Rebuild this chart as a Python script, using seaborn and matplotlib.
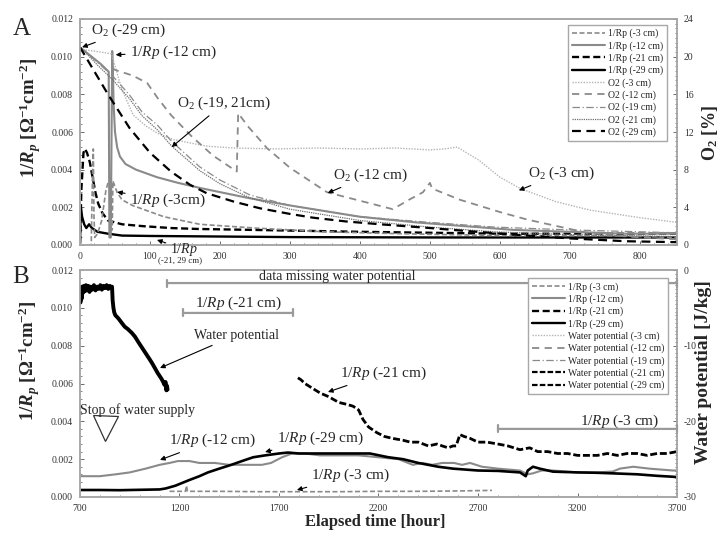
import seaborn as sns
import matplotlib.pyplot as plt
from matplotlib.lines import Line2D
from matplotlib.ticker import MultipleLocator, FixedLocator, FormatStrFormatter

# ---------------- panel A data (hours, 1/Rp and O2 %) ----------------
rp3_h = [0, 16, 18, 19, 20, 21, 25, 31, 37, 40, 44, 45, 46, 47, 50, 53, 60, 75, 90, 120, 171, 250, 350, 457, 600, 750, 853]
rp3_v = [0, 0, 0.0040, 0.0051, 0.0015, 0.0004, 0.0006, 0.0013, 0.0029, 0.0033, 0.0033, 0.0008, 0.0008, 0.0034, 0.0031,
         0.0028, 0.0024, 0.0021, 0.0019, 0.0015, 0.0011, 0.0009, 0.0007, 0.0006, 0.0005, 0.0005, 0.0004]

rp12_h = [0, 10, 20, 30, 41, 42, 44, 46, 47, 48, 50, 53, 57, 65, 80, 110, 140, 175, 240, 300, 400, 480, 550, 620, 700, 780, 853]
rp12_v = [0.0105, 0.0102, 0.0099, 0.0096, 0.0092, 0.0004, 0.0004, 0.0103, 0.0092, 0.0075, 0.0060, 0.0052, 0.0047, 0.0043,
          0.0040, 0.0036, 0.0033, 0.0030, 0.0025, 0.0021, 0.0015, 0.0012, 0.0010, 0.0008, 0.0007, 0.0006, 0.0006]

rp21_h = [0, 2, 5, 7, 10, 14, 18, 22, 26, 32, 40, 50, 60, 90, 130, 170, 250, 400, 600, 853]
rp21_v = [0.0001, 0.0030, 0.0049, 0.0051, 0.0049, 0.0044, 0.0036, 0.0028, 0.0022, 0.0017, 0.0013, 0.0012, 0.0011,
          0.0010, 0.0009, 0.00085, 0.0008, 0.0007, 0.0006, 0.0006]

rp29_h = [0, 1, 3, 6, 9, 13, 17, 25, 40, 60, 100, 200, 300, 500, 700, 853]
rp29_v = [0, 0.0021, 0.0015, 0.0011, 0.0009, 0.0011, 0.0009, 0.0007, 0.0006, 0.0005, 0.00048, 0.00045, 0.00042,
          0.0004, 0.0004, 0.0004]

o2_3_h = [0, 20, 45, 52, 60, 76, 95, 110, 133, 160, 181, 220, 280, 340, 400, 450, 500, 520, 539, 570, 600, 629, 680, 729, 800, 853]
o2_3_v = [20.8, 20.6, 20.3, 18.5, 16.5, 13.8, 12.6, 11.9, 11.2, 10.8, 10.5, 10.3, 10.2, 10.3, 10.2, 10.3, 10.1, 10.2,
          10.4, 9.0, 7.2, 6.0, 4.6, 3.7, 2.9, 2.4]

o2_12_h = [46, 50, 75, 96, 111, 130, 160, 190, 220, 224, 226, 240, 267, 300, 353, 400, 447, 470, 490, 500, 503, 543,
           600, 639, 700, 724, 781, 853]
o2_12_v = [18.8, 18.6, 18.0, 17.2, 15.6, 13.8, 11.5, 9.5, 8.0, 7.8, 14.0, 12.6, 10.3, 8.2, 5.6, 4.7, 3.8, 4.8, 5.6,
           6.6, 6.0, 4.8, 3.5, 2.7, 1.7, 1.3, 0.9, 0.6]

o2_19_h = [0, 7, 25, 46, 70, 89, 111, 131, 171, 200, 243, 300, 400, 500, 593, 700, 853]
o2_19_v = [21.0, 20.6, 19.4, 18.0, 16.0, 14.1, 12.7, 11.0, 8.3, 6.9, 5.3, 4.2, 3.0, 2.4, 1.9, 1.6, 1.3]
o2_21_v = [21.0, 20.5, 19.1, 17.6, 15.6, 13.7, 12.2, 10.5, 7.9, 6.5, 5.0, 3.8, 2.6, 1.9, 1.4, 1.1, 0.9]

o2_29_h = [0, 20, 40, 71, 100, 130, 157, 181, 220, 257, 300, 333, 380, 429, 500, 550, 620, 700, 780, 853]
o2_29_v = [21.0, 18.5, 16.0, 12.4, 9.8, 7.8, 6.4, 5.5, 4.6, 3.9, 3.3, 2.9, 2.5, 2.2, 1.8, 1.5, 1.1, 0.7, 0.4, 0.3]

# ---------------- panel B data (hours, 1/Rp and water potential J/kg) ----------------
b_rp3_h = [1150, 1230, 1235, 1240, 1400, 1600, 1800, 2000, 2200, 2400, 2600, 2770]
b_rp3_v = [0.0003, 0.0003, 0.0006, 0.0003, 0.0003, 0.00028, 0.00028, 0.00028, 0.0003, 0.0003, 0.00032, 0.00035]

b_rp12_h = [700, 800, 880, 950, 1030, 1100, 1150, 1192, 1250, 1300, 1378, 1450, 1520, 1614, 1660, 1715, 1765, 1830,
            1906, 2000, 2100, 2200, 2300, 2373, 2420, 2470, 2520, 2580, 2620, 2660, 2720, 2800, 2911, 2950, 2976,
            3020, 3077, 3200, 3300, 3378, 3413, 3480, 3560, 3680, 3700]
b_rp12_v = [0.0011, 0.0011, 0.0012, 0.0013, 0.0015, 0.0017, 0.0018, 0.0019, 0.0019, 0.0018, 0.0018, 0.0017, 0.0017,
            0.0017, 0.0018, 0.0021, 0.0023, 0.0023, 0.0022, 0.0022, 0.0022, 0.0021, 0.0020, 0.0017, 0.0018, 0.0017,
            0.0018, 0.0018, 0.0017, 0.0018, 0.0016, 0.0015, 0.0014, 0.0012, 0.00125, 0.0014, 0.0014, 0.0013, 0.0013,
            0.00135, 0.0015, 0.0016, 0.0015, 0.0014, 0.0014]

b_rp21_h = [1795, 1810, 1830, 1860, 1906, 1950, 2000, 2040, 2072, 2100, 2122, 2150, 2192, 2230, 2270, 2323, 2360, 2400,
            2450, 2494, 2520, 2550, 2574, 2590, 2609, 2630, 2660, 2700, 2745, 2800, 2850, 2911, 2960, 3000, 3050,
            3100, 3150, 3200, 3248, 3300, 3350, 3400, 3450, 3500, 3550, 3600, 3650, 3700]
b_rp21_v = [0.0063, 0.0062, 0.0060, 0.0058, 0.0055, 0.0053, 0.0050, 0.0049, 0.0048, 0.0046, 0.0041, 0.0037, 0.0034,
            0.0032, 0.0031, 0.0030, 0.0029, 0.0029, 0.0027, 0.0028, 0.0027, 0.0026, 0.0027, 0.0027, 0.0033, 0.0032,
            0.0031, 0.0029, 0.0029, 0.0028, 0.0027, 0.0025, 0.0026, 0.0024, 0.0024, 0.0023, 0.0023, 0.0022, 0.0022,
            0.0022, 0.0023, 0.0022, 0.0023, 0.0023, 0.0022, 0.0023, 0.0023, 0.0024]

b_rp29_h = [700, 800, 900, 1000, 1100, 1130, 1180, 1250, 1300, 1343, 1400, 1460, 1514, 1570, 1630, 1700, 1745, 1800,
            1906, 2000, 2100, 2157, 2250, 2323, 2400, 2500, 2574, 2700, 2800, 2911, 2940, 2950, 2976, 3010, 3077,
            3200, 3300, 3378, 3500, 3600, 3680, 3700]
b_rp29_v = [0.00037, 0.00037, 0.00036, 0.00038, 0.00040, 0.00045, 0.0006, 0.0009, 0.0011, 0.0013, 0.0015, 0.0017,
            0.0019, 0.0021, 0.0022, 0.0023, 0.00235, 0.0023, 0.0023, 0.0023, 0.0023, 0.0023, 0.0021, 0.0020, 0.0018,
            0.0016, 0.0015, 0.0014, 0.00138, 0.0013, 0.0011, 0.0014, 0.0016, 0.0015, 0.00134, 0.0013, 0.00128,
            0.00125, 0.0012, 0.00112, 0.00107, 0.00105]

wp_h = [700, 702, 705, 708, 712, 716, 720, 725, 730, 736, 742, 748, 755, 762, 770, 778, 786, 794, 802, 810, 818, 826,
        834, 842, 850, 856, 861, 864, 868, 872, 878, 886, 896, 910, 925, 940, 960, 976, 995, 1015, 1035, 1050, 1062,
        1075, 1090, 1100, 1110, 1118, 1125, 1130, 1134, 1137, 1140]
wp_v = [-2.3, -4.3, -2.6, -3.8, -2.2, -3.0, -2.1, -2.8, -2.0, -2.7, -2.1, -2.9, -2.2, -2.6, -2.0, -2.7, -2.2, -2.5,
        -2.0, -2.6, -2.1, -2.4, -2.0, -2.5, -2.1, -2.4, -2.2, -4.0, -5.0, -5.6, -6.0, -6.2, -6.5, -7.0, -7.5, -7.8,
        -8.3, -8.8, -9.6, -10.4, -11.2, -11.8, -12.3, -12.9, -13.6, -14.0, -14.4, -14.8, -15.2, -14.8, -15.9, -15.3,
        -15.8]

stop_supply_h = 826
b_xticks = [700, 1200, 1700, 2200, 2700, 3200, 3700]

sns.set_style("ticks")
plt.rcParams["font.family"] = ["Liberation Serif", "DejaVu Serif"]
plt.rcParams["mathtext.fontset"] = "custom"
plt.rcParams["mathtext.rm"] = "Liberation Serif"
plt.rcParams["mathtext.it"] = "Liberation Serif:italic"
plt.rcParams["mathtext.bf"] = "Liberation Serif:bold"
plt.rcParams["mathtext.bfit"] = "Liberation Serif:italic:bold"
plt.rcParams["axes.unicode_minus"] = False

GRAY = "#8a8a8a"
LGRAY = "#b4b4b4"
DGRAY = "#6e6e6e"
SPINE = "#a8a8a8"

st = {
    "rp3": dict(color=GRAY, lw=1.2, linestyle=(0, (3, 1.5))),
    "rp12": dict(color=GRAY, lw=1.5, linestyle="-"),
    "rp21": dict(color="black", lw=1.7, linestyle=(0, (3, 1.5))),
    "rp29": dict(color="black", lw=1.7, linestyle="-"),
    "o3": dict(color=LGRAY, lw=1.0, linestyle=(0, (1, 1))),
    "o12": dict(color=GRAY, lw=1.3, linestyle=(0, (4, 3))),
    "o19": dict(color=GRAY, lw=0.9, linestyle=(0, (6, 2, 1, 2))),
    "o21": dict(color=DGRAY, lw=0.9, linestyle=(0, (1, 0.8))),
    "o29": dict(color="black", lw=1.6, linestyle=(0, (4, 2.5))),
}


def draw(ax, h, v, key, **extra):
    kw = dict(st[key])
    kw.update(extra)
    sns.lineplot(x=h, y=v, ax=ax, sort=False, estimator=None, legend=False, **kw)


def style_axes(ax, ax2):
    for a in (ax, ax2):
        for s in a.spines.values():
            s.set_color(SPINE)
            s.set_linewidth(1.2)
        a.tick_params(which="both", direction="in", colors="#555555", labelcolor="#333333",
                      labelsize=7, pad=5)
        a.tick_params(which="major", length=3, width=0.6)
        a.tick_params(which="minor", length=1.6, width=0.5)
    ax.yaxis.set_major_formatter(FormatStrFormatter("%.3f"))
    ax.yaxis.set_major_locator(MultipleLocator(0.002))
    ax.yaxis.set_minor_locator(MultipleLocator(0.0004))
    ax.set_ylim(0, 0.012)
    ax.set_xlabel("")
    ax.set_ylabel("")
    ax2.set_ylabel("")


arr = dict(arrowstyle="-|>", color="black", lw=0.8, mutation_scale=7, shrinkA=1, shrinkB=0)

fig = plt.figure(figsize=(7.22, 5.36), dpi=100)
axA = fig.add_axes([80 / 722, 1 - 245 / 536, 597 / 722, 226 / 536])
axB = fig.add_axes([80 / 722, 1 - 497 / 536, 597 / 722, 227 / 536])

# ---------------- panel A ----------------
axA2 = axA.twinx()
draw(axA, rp29_h, rp29_v, "rp29")
draw(axA, rp21_h, rp21_v, "rp21")
draw(axA, rp3_h, rp3_v, "rp3")
draw(axA, rp12_h, rp12_v, "rp12")
draw(axA2, o2_3_h, o2_3_v, "o3")
draw(axA2, o2_19_h, o2_19_v, "o19")
draw(axA2, o2_19_h, o2_21_v, "o21")
draw(axA2, o2_12_h, o2_12_v, "o12")
draw(axA2, o2_29_h, o2_29_v, "o29")

style_axes(axA, axA2)
axA.set_xlim(0, 853)
axA.xaxis.set_major_locator(MultipleLocator(100))
axA.xaxis.set_minor_locator(MultipleLocator(20))
axA2.set_ylim(0, 24)
axA2.yaxis.set_major_locator(MultipleLocator(4))
axA2.yaxis.set_minor_locator(MultipleLocator(0.5))

leg_a_keys = ["rp3", "rp12", "rp21", "rp29", "o3", "o12", "o19", "o21", "o29"]
leg_a_labels = ["1/Rp (-3 cm)", "1/Rp (-12 cm)", "1/Rp (-21 cm)", "1/Rp (-29 cm)", "O2 (-3 cm)",
                "O2 (-12 cm)", "O2 (-19 cm)", "O2 (-21 cm)", "O2 (-29 cm)"]
handles = [Line2D([], [], **st[k]) for k in leg_a_keys]
legA = axA2.legend(handles, leg_a_labels, loc="upper right", bbox_to_anchor=(0.992, 0.995), fontsize=7,
                   handlelength=3.4, handletextpad=0.3, labelspacing=0.28, borderpad=0.4,
                   fancybox=False, framealpha=1, edgecolor=SPINE)
legA.get_frame().set_linewidth(1.0)

A = axA2  # annotations drawn on top, in 1/Rp coordinates
tA = axA.transData
for text, xt, xp in [
    (r"O$_2$ (-29 cm)", (16, 0.01142), (3, 0.0105)),
    (r"1/$Rp$ (-12 cm)", (71, 0.01025), (51, 0.0101)),
    (r"O$_2$ (-19, 21cm)", (139, 0.00754), (131, 0.0052)),
    (r"1/$Rp$ (-3cm)", (71, 0.00239), (53, 0.00281)),
    (r"O$_2$ (-12 cm)", (361, 0.00372), (354, 0.00276)),
    (r"O$_2$ (-3 cm)", (640, 0.00382), (627, 0.00290)),
]:
    A.annotate(text, xy=xp, xytext=xt, xycoords=tA, textcoords=tA, ha="left", va="center", fontsize=11,
               annotation_clip=False, arrowprops=arr)
A.annotate(r"1/$Rp$", xy=(110, 0.00027), xytext=(149, -0.00022), xycoords=tA, textcoords=tA, ha="center",
           va="center", fontsize=10, annotation_clip=False, arrowprops=arr)
A.text(143, -0.00080, "(-21, 29 cm)", transform=tA, ha="center", va="center", fontsize=6.5)

# ---------------- panel B ----------------
axB2 = axB.twinx()
draw(axB, b_rp3_h, b_rp3_v, "rp3")
draw(axB, b_rp12_h, b_rp12_v, "rp12")
draw(axB, b_rp29_h, b_rp29_v, "rp29", lw=1.9)
draw(axB, b_rp21_h, b_rp21_v, "rp21", lw=2.0, linestyle=(0, (2.5, 1)))
draw(axB2, wp_h, wp_v, "rp29", lw=2.8)

style_axes(axB, axB2)
axB.set_xlim(700, 3700)
axB.xaxis.set_major_locator(FixedLocator(b_xticks))
axB.xaxis.set_minor_locator(MultipleLocator(100))
axB2.set_ylim(-30, 0)
axB2.yaxis.set_major_locator(MultipleLocator(10))
axB2.yaxis.set_minor_locator(MultipleLocator(0.5))

wp_styles = [
    dict(color=LGRAY, lw=1.0, linestyle=(0, (1, 1))),
    dict(color=GRAY, lw=1.3, linestyle=(0, (4, 3))),
    dict(color=GRAY, lw=0.9, linestyle=(0, (6, 2, 1, 2))),
    dict(color="black", lw=1.6, linestyle=(0, (2.5, 1))),
    dict(color="black", lw=1.6, linestyle=(0, (2.5, 1))),
]
handles_b = [Line2D([], [], **st[k]) for k in ["rp3", "rp12", "rp21", "rp29"]] + \
            [Line2D([], [], **s) for s in wp_styles]
labels_b = ["1/Rp (-3 cm)", "1/Rp (-12 cm)", "1/Rp (-21 cm)", "1/Rp (-29 cm)", "Water potential (-3 cm)",
            "Water potential (-12 cm)", "Water potential (-19 cm)", "Water potential (-21 cm)",
            "Water potential (-29 cm)"]

tB = axB.transData
B = axB2
bar = dict(arrowstyle="|-|, widthA=0.25, widthB=0.25", color="#9a9a9a", lw=1.6, shrinkA=0, shrinkB=0)
for x0, x1, yb in [(1137, 3700, 0.01131), (1218, 1770, 0.00973), (2800, 3700, 0.0036)]:
    B.annotate("", xy=(x1, yb), xytext=(x0, yb), xycoords=tB, textcoords=tB,
               arrowprops=bar, annotation_clip=False)

legB = axB2.legend(handles_b, labels_b, loc="upper right", bbox_to_anchor=(0.993, 0.985), fontsize=7,
                   handlelength=3.4, handletextpad=0.3, labelspacing=0.28, borderpad=0.4,
                   fancybox=False, framealpha=1, edgecolor=SPINE)
legB.get_frame().set_linewidth(1.0)

B.text(1991, 0.01168, "data missing water potential", transform=tB, ha="center", va="center", fontsize=10)
B.text(1494, 0.01026, r"1/$Rp$ (-21 cm)", transform=tB, ha="center", va="center", fontsize=11)
B.text(3413, 0.0040, r"1/$Rp$ (-3 cm)", transform=tB, ha="center", va="center", fontsize=11)
B.text(700, 0.0046, "Stop of water supply", transform=tB, ha="left", va="center", fontsize=10)
axB.plot([stop_supply_h], [0.00365], marker="v", ms=18, mfc="none", mec="#333333", mew=0.9,
         clip_on=False)
for text, xt, xp, fs in [
    ("Water potential", (1484, 0.00856), (1102, 0.00682), 10),
    (r"1/$Rp$ (-12 cm)", (1368, 0.0030), (1102, 0.00196), 11),
    (r"1/$Rp$ (-29 cm)", (1906, 0.00312), (1630, 0.00238), 11),
    (r"1/$Rp$ (-3 cm)", (2062, 0.00116), (1790, 0.00037), 11),
    (r"1/$Rp$ (-21 cm)", (2223, 0.00655), (1946, 0.00555), 11),
]:
    B.annotate(text, xy=xp, xytext=xt, xycoords=tB, textcoords=tB, ha="center", va="center",
               fontsize=fs, annotation_clip=False, arrowprops=arr)

# ---------------- figure texts ----------------
fig.text(0.017, 0.935, "A", fontsize=18, va="baseline", ha="left")
fig.text(0.017, 0.472, "B", fontsize=18, va="baseline", ha="left")
ylab = r"1/$\mathbfit{R_p}$ [Ω$^{\mathbf{-1}}$cm$^{\mathbf{-2}}$]"
fig.text(30 / 722, 1 - 118 / 536, ylab, rotation=90, ha="center", va="center", fontsize=13.5,
         fontweight="bold")
fig.text(29 / 722, 1 - 361 / 536, ylab, rotation=90, ha="center", va="center", fontsize=13.5,
         fontweight="bold")
fig.text(710 / 722, 1 - 133 / 536, r"O$_\mathbf{2}$ [%]", rotation=90, ha="center", va="center",
         fontsize=13, fontweight="bold")
fig.text(704 / 722, 1 - 372 / 536, "Water potential [J/kg]", rotation=90, ha="center", va="center",
         fontsize=14, fontweight="bold")
fig.text(375 / 722, 1 - 522 / 536, "Elapsed time [hour]", ha="center", va="center", fontsize=12,
         fontweight="bold")

fig.savefig("out.png", dpi=100)
